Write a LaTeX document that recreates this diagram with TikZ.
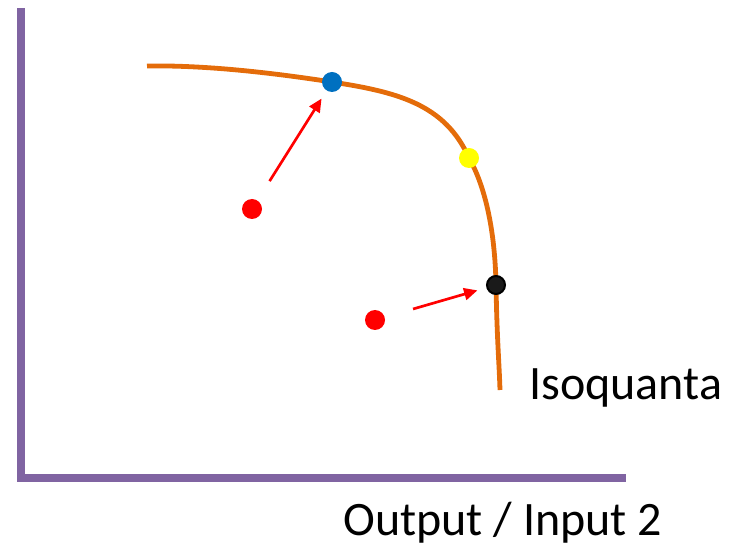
\documentclass[tikz,border=0pt]{standalone}
\usepackage{fontspec}
\setmainfont{Carlito}
\usetikzlibrary{arrows.meta}
\definecolor{axispurple}{HTML}{8064A2}
\definecolor{isoorange}{HTML}{E46C0A}
\definecolor{dotblue}{HTML}{0070C0}
\definecolor{dotred}{HTML}{FF0000}
\definecolor{dotyellow}{HTML}{FFFF00}
\definecolor{dotblack}{HTML}{1A1A1A}
\begin{document}
\begin{tikzpicture}[x=0.75pt,y=-0.75pt,
  axisline/.style={draw=axispurple,line width=6pt},
  isoline/.style={draw=isoorange,line width=3.6pt},
  dot/.style={circle,inner sep=0pt,minimum size=15pt},
  redarrow/.style={draw=dotred,line width=2pt,-{Triangle[length=10pt,width=9pt]}},
  lbl/.style={inner sep=0pt,font=\fontsize{36}{43}\selectfont}]
\useasboundingbox (0,0) rectangle (734,548);
% axes
\coordinate (ytop) at (21,8);
\coordinate (origin) at (21,482);
\coordinate (hleft) at (17,478);
\coordinate (xend) at (626,478);
\draw[axisline] (ytop) -- (origin);
\draw[axisline] (hleft) -- (xend);
% isoquant
\coordinate (isostart) at (147,66);
\coordinate (isoend) at (500,390);
\draw[isoline] (isostart) .. controls (210,65) and (280,74) .. (332,82)
  .. controls (397,92) and (445,104) .. (469,158)
  .. controls (485,186) and (495,230) .. (496,285)
  .. controls (497,340) and (499,360) .. (isoend);
% dots
\node[dot,fill=dotblue] (blue) at (332,82) {};
\node[dot,fill=dotyellow] (yellow) at (469,158) {};
\node[dot,fill=dotblack,draw=black,line width=1.5pt,minimum size=13.5pt] (black) at (496,285) {};
\node[dot,fill=dotred] (red1) at (252,209) {};
\node[dot,fill=dotred] (red2) at (375,320) {};
% arrows
\draw[redarrow,shorten <=17pt,shorten >=7pt] (red1) -- (blue);
\draw[redarrow,shorten <=22pt,shorten >=7pt] (red2) -- (black);
% labels
\node[lbl,anchor=base west] (iso) at (529,399) {Isoquanta};
\node[lbl,anchor=base west] (xlab) at (343,535) {Output / Input 2};
\end{tikzpicture}
\end{document}
